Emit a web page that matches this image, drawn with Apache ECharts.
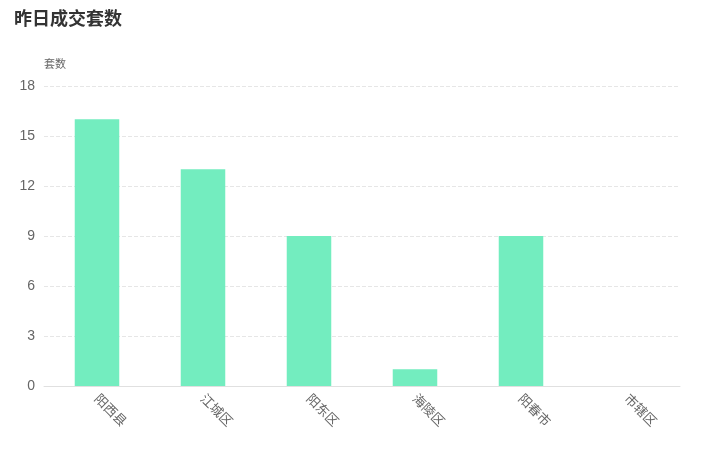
<!DOCTYPE html>
<html><head><meta charset="utf-8">
<script src="https://cdn.jsdelivr.net/npm/echarts@6/dist/echarts.min.js"></script>
<style>html,body{margin:0;padding:0;background:#fff}#c{width:707px;height:464px}</style>
</head><body><div id="c"></div>
<script>
const categories = ['阳西县','江城区','阳东区','海陵区','阳春市','市辖区'];
const values = [16, 13, 9, 1, 9, 0];
const yTicks = {min: 0, max: 18, interval: 3};

const chart = echarts.init(document.getElementById('c'));
chart.setOption({
  title: {text: '昨日成交套数', left: 9, top: 4, textStyle: {fontSize: 18, fontWeight: 'bold', color: '#333', fontFamily: 'Noto Sans CJK SC'}},
  grid: {left: 44, right: 27, top: 86, bottom: 78, containLabel: false},
  xAxis: {
    type: 'category', data: categories,
    axisTick: {show: false},
    axisLine: {lineStyle: {color: '#e0e0e0'}},
    axisLabel: {rotate: -45, color: '#666', fontSize: 13, margin: 10, fontFamily: 'Noto Sans CJK SC'}
  },
  yAxis: {
    type: 'value', name: '套数', min: yTicks.min, max: yTicks.max, interval: yTicks.interval,
    nameTextStyle: {color: '#666', fontSize: 11, align: 'left', padding: [0, 0, 4, 0], fontFamily: 'Noto Sans CJK SC'},
    nameGap: 13,
    axisLine: {show: false}, axisTick: {show: false},
    axisLabel: {color: '#666', fontSize: 14, margin: 9},
    splitLine: {lineStyle: {type: 'dashed', color: '#e6e6e6'}}
  },
  series: [{type: 'bar', data: values, barWidth: '42%', itemStyle: {color: '#73EDBF'}}],
  animation: false
});
</script></body></html>
